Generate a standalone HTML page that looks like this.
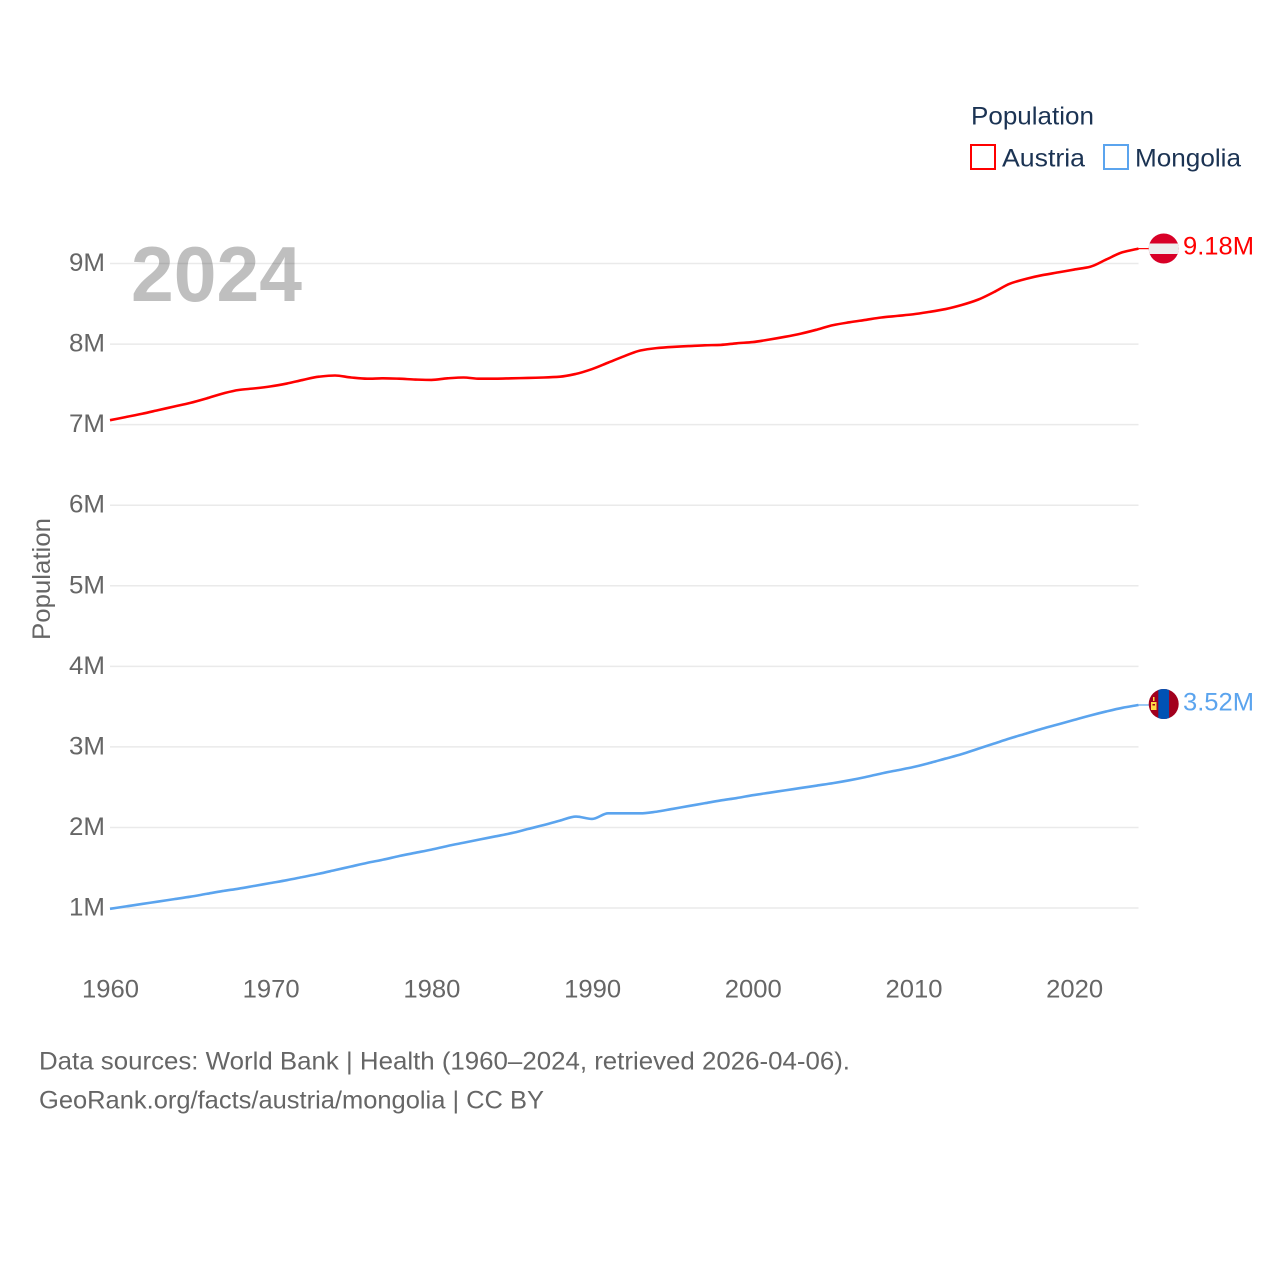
<!DOCTYPE html>
<html lang="en">
<head>
<meta charset="utf-8">
<title>Population of Austria and Mongolia</title>
<style>
html,body{margin:0;padding:0;background:#fff;width:1280px;height:1280px;overflow:hidden}
svg{display:block}
text{font-family:"Liberation Sans",sans-serif}
</style>
</head>
<body>
<svg id="chart" width="1280" height="1280" viewBox="0 0 1280 1280" xmlns="http://www.w3.org/2000/svg">
  <text x="131" y="301" font-size="78" font-weight="bold" fill="#bfbfbf" textLength="171" lengthAdjust="spacingAndGlyphs">2024</text>
  <g id="grid"></g>
  <g id="yticks"></g>
  <g id="xticks"></g>
  <text transform="translate(50,640) rotate(-90)" font-size="25" fill="#666" textLength="122" lengthAdjust="spacingAndGlyphs">Population</text>
  <g id="series"></g>

  <g>
    <text x="971" y="124.5" font-size="25" fill="#1b3353" textLength="123" lengthAdjust="spacingAndGlyphs">Population</text>
    <rect x="971" y="145" width="24" height="24" fill="#fff" stroke="#ff0000" stroke-width="2"/>
    <text x="1002" y="166.5" font-size="25" fill="#1b3353" textLength="83" lengthAdjust="spacingAndGlyphs">Austria</text>
    <rect x="1104" y="145" width="24" height="24" fill="#fff" stroke="#5ba4ee" stroke-width="2"/>
    <text x="1135" y="166.5" font-size="25" fill="#1b3353" textLength="106" lengthAdjust="spacingAndGlyphs">Mongolia</text>
  </g>

  <defs>
    <clipPath id="flagClipA"><circle cx="1163.7" cy="248.5" r="15"/></clipPath>
    <clipPath id="flagClipM"><circle cx="1163.7" cy="704" r="15"/></clipPath>
  </defs>
  <g clip-path="url(#flagClipA)">
    <rect x="1148" y="233" width="31" height="31" fill="#d80027"/>
    <rect x="1148" y="243.5" width="31" height="10.5" fill="#eeeeee"/>
  </g>
  <g clip-path="url(#flagClipM)">
    <rect x="1148" y="689" width="31" height="31" fill="#a2001d"/>
    <rect x="1158.3" y="689" width="10.8" height="31" fill="#0052b4"/>
    <rect x="1151" y="702" width="5.5" height="8" fill="#ffda44"/>
    <rect x="1152.5" y="704" width="2.5" height="1.5" fill="#a2001d"/>
    <rect x="1153" y="697" width="1.5" height="4" fill="#ffda44"/>
  </g>
  <text x="1183" y="254.5" font-size="25" fill="#ff0000" textLength="71" lengthAdjust="spacingAndGlyphs">9.18M</text>
  <text x="1183" y="710.5" font-size="25" fill="#5ba4ee" textLength="71" lengthAdjust="spacingAndGlyphs">3.52M</text>

  <text x="39" y="1069.5" font-size="25" fill="#666" textLength="811" lengthAdjust="spacingAndGlyphs">Data sources: World Bank | Health (1960–2024, retrieved 2026-04-06).</text>
  <text x="39" y="1108.5" font-size="25" fill="#666" textLength="505" lengthAdjust="spacingAndGlyphs">GeoRank.org/facts/austria/mongolia | CC BY</text>
</svg>
<script>
const firstYear = 1960;
const austria = [7.055,7.095,7.135,7.18,7.225,7.27,7.325,7.385,7.43,7.45,
  7.475,7.51,7.555,7.595,7.61,7.585,7.57,7.575,7.57,7.56,
  7.555,7.575,7.585,7.57,7.57,7.575,7.58,7.585,7.595,7.63,
  7.69,7.77,7.85,7.92,7.95,7.965,7.975,7.985,7.99,8.01,
  8.025,8.055,8.09,8.13,8.18,8.235,8.27,8.30,8.33,8.35,
  8.37,8.40,8.435,8.485,8.55,8.645,8.75,8.81,8.855,8.89,
  8.925,8.96,9.05,9.14,9.185];
const mongolia = [0.99,1.02,1.05,1.08,1.11,1.14,1.175,1.21,1.24,1.275,
  1.31,1.345,1.385,1.425,1.47,1.515,1.56,1.60,1.645,1.685,
  1.725,1.77,1.81,1.85,1.89,1.93,1.98,2.03,2.085,2.135,
  2.105,2.175,2.175,2.175,2.195,2.23,2.265,2.30,2.335,2.365,
  2.40,2.43,2.46,2.49,2.52,2.55,2.585,2.625,2.67,2.71,
  2.75,2.80,2.855,2.91,2.975,3.04,3.105,3.165,3.225,3.28,
  3.335,3.39,3.44,3.485,3.52];
const yTickValues = [1,2,3,4,5,6,7,8,9];
const yTickLabels = ["1M","2M","3M","4M","5M","6M","7M","8M","9M"];
const xTickYears = [1960,1970,1980,1990,2000,2010,2020];
const xTickLabels = ["1960","1970","1980","1990","2000","2010","2020"];

const SVG_NS = "http://www.w3.org/2000/svg";
function xScale(year){ return 110 + (year - 1960) * 16.07; }
function yScale(v){ return 908 - (v - 1) * 80.56; }

function monotonePath(xs, ys){
  const n = xs.length;
  const slopes = [];
  for (let i = 0; i < n - 1; i++) slopes.push((ys[i + 1] - ys[i]) / (xs[i + 1] - xs[i]));
  const tangents = [slopes[0]];
  for (let i = 1; i < n - 1; i++) {
    const a = slopes[i - 1], b = slopes[i];
    tangents.push(a * b <= 0 ? 0 : 2 * a * b / (a + b));
  }
  tangents.push(slopes[n - 2]);
  let d = "M" + xs[0].toFixed(2) + "," + ys[0].toFixed(2);
  for (let i = 0; i < n - 1; i++) {
    const h = (xs[i + 1] - xs[i]) / 3;
    d += "C" + (xs[i] + h).toFixed(2) + "," + (ys[i] + tangents[i] * h).toFixed(2) + " " +
         (xs[i + 1] - h).toFixed(2) + "," + (ys[i + 1] - tangents[i + 1] * h).toFixed(2) + " " +
         xs[i + 1].toFixed(2) + "," + ys[i + 1].toFixed(2);
  }
  return d;
}

const gridLayer = document.getElementById("grid");
const yLayer = document.getElementById("yticks");
const xLayer = document.getElementById("xticks");
const seriesLayer = document.getElementById("series");

yTickValues.forEach(function(v, i){
  const line = document.createElementNS(SVG_NS, "line");
  line.setAttribute("x1", 110);
  line.setAttribute("x2", 1138.5);
  line.setAttribute("y1", yScale(v));
  line.setAttribute("y2", yScale(v));
  line.setAttribute("stroke", "#333");
  line.setAttribute("stroke-opacity", 0.1);
  line.setAttribute("stroke-width", 1.5);
  
  
  gridLayer.appendChild(line);

  const label = document.createElementNS(SVG_NS, "text");
  label.setAttribute("x", 69);
  label.setAttribute("y", yScale(v) + 7.5);
  label.setAttribute("font-size", 25);
  label.setAttribute("fill", "#666");
  label.setAttribute("textLength", 36);
  label.setAttribute("lengthAdjust", "spacingAndGlyphs");
  label.textContent = yTickLabels[i];
  
  
  yLayer.appendChild(label);
});

xTickYears.forEach(function(year, i){
  const label = document.createElementNS(SVG_NS, "text");
  label.setAttribute("x", xScale(year) + 0.5);
  label.setAttribute("y", 997.5);
  label.setAttribute("text-anchor", "middle");
  label.setAttribute("font-size", 25);
  label.setAttribute("fill", "#666");
  label.setAttribute("textLength", 57);
  label.setAttribute("lengthAdjust", "spacingAndGlyphs");
  label.textContent = xTickLabels[i];
  
  
  xLayer.appendChild(label);
});

function drawSeries(values, color, name){
  const xs = values.map(function(v, i){ return xScale(firstYear + i); });
  const ys = values.map(function(v){ return yScale(v); });
  const path = document.createElementNS(SVG_NS, "path");
  path.setAttribute("d", monotonePath(xs, ys));
  path.setAttribute("fill", "none");
  path.setAttribute("stroke", color);
  path.setAttribute("stroke-width", 2.6);
  path.setAttribute("stroke-linejoin", "round");
  
  
  seriesLayer.appendChild(path);

  const last = values[values.length - 1];
  const lead = document.createElementNS(SVG_NS, "line");
  lead.setAttribute("x1", xScale(firstYear + values.length - 1));
  lead.setAttribute("x2", 1149);
  lead.setAttribute("y1", yScale(last));
  lead.setAttribute("y2", yScale(last));
  lead.setAttribute("stroke", color);
  lead.setAttribute("stroke-width", 1.2);
  
  
  seriesLayer.appendChild(lead);
}
drawSeries(austria, "#ff0000", "austria");
drawSeries(mongolia, "#5ba4ee", "mongolia");
</script>
</body>
</html>
